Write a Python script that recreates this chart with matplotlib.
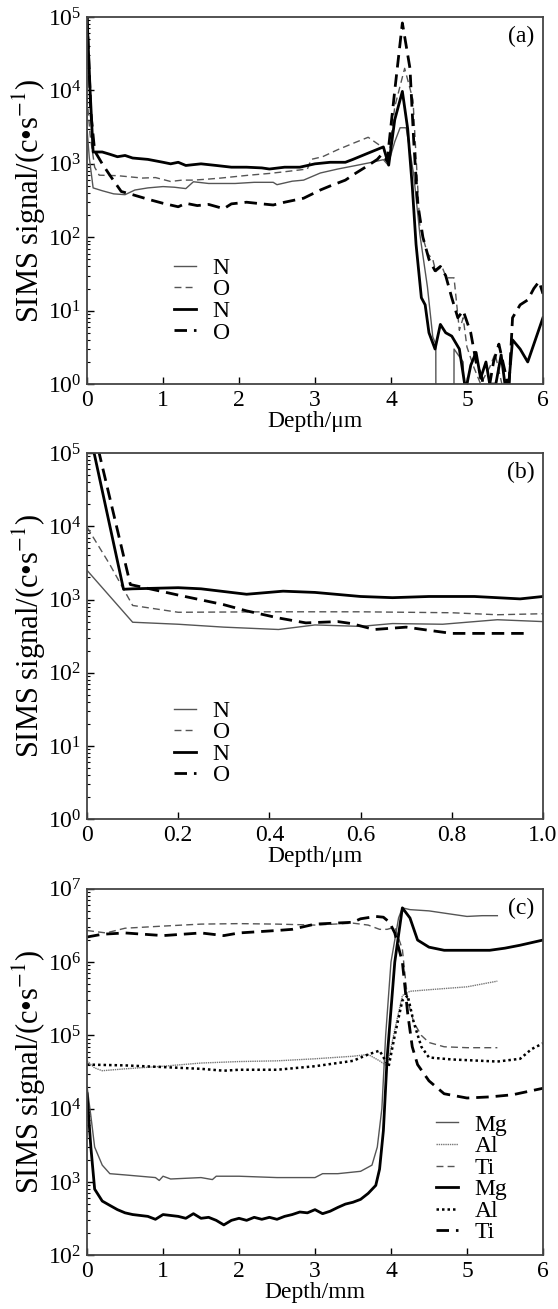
import matplotlib
matplotlib.use("Agg")
import matplotlib.pyplot as plt
import numpy as np

plt.rcParams['font.family'] = ['Liberation Serif', 'DejaVu Serif']
plt.rcParams['mathtext.fontset'] = 'stix'

GREY = '#555555'
ZERO = 1e-3   # signal dropped to zero (drawn off the bottom of the log axis)

# ---------------- panel (a) ----------------
a_N1_x = [0.0, 0.03, 0.08, 0.2, 0.35, 0.5, 0.63, 0.8, 1.0, 1.15, 1.3, 1.4, 1.6, 1.95, 2.2, 2.45, 2.5, 2.7, 2.85,
          3.07, 3.3, 3.54, 3.75, 3.9, 3.96, 4.05, 4.12, 4.2, 4.3, 4.38, 4.48, 4.55, 4.59, 4.595, 4.825, 4.83,
          4.95, 5.05]
a_N1_y = [3000, 1200, 470, 430, 390, 380, 440, 470, 490, 480, 460, 570, 540, 540, 560, 560, 520, 580, 600,
          750, 850, 950, 1050, 1140, 970, 2000, 3100, 3100, 700, 110, 21, 4.4, 3.5, ZERO, ZERO, 3.0,
          2.0, ZERO]
a_O1_x = [0.0, 0.04, 0.1, 0.16, 0.4, 0.73, 0.9, 1.1, 1.25, 1.4, 1.6, 1.76, 2.13, 2.4, 2.6, 2.9, 2.95, 3.1, 3.3,
          3.5, 3.7, 3.9, 3.96, 4.05, 4.18, 4.29, 4.38, 4.48, 4.55, 4.59, 4.67, 4.73, 4.83, 4.9, 4.95,
          5.0, 5.09, 5.18, 5.3, 5.37, 5.46, 5.5]
a_O1_y = [8000, 2500, 900, 700, 690, 640, 650, 575, 600, 600, 620, 640, 700, 740, 780, 850, 1150, 1250, 1560,
          1900, 2300, 1650, 1000, 6000, 20000, 7400, 140, 60, 50, 34, 40, 28, 28, 5.4, 8,
          3.2, 1.7, 1.0, 1.7, 2.6, 1.0, 0.5]
a_N2_x = [0.0, 0.04, 0.08, 0.2, 0.3, 0.4, 0.5, 0.6, 0.8, 1.0, 1.1, 1.2, 1.3, 1.5, 1.7, 1.9, 2.1, 2.3, 2.4,
          2.6, 2.8, 3.0, 3.2, 3.4, 3.5, 3.7, 3.9, 3.97, 4.05, 4.15, 4.22, 4.28, 4.33, 4.4, 4.45, 4.5,
          4.58, 4.65, 4.72, 4.8, 4.9, 4.97, 5.0, 5.05, 5.12, 5.18, 5.25, 5.3, 5.38, 5.45, 5.5, 5.55,
          5.6, 5.7, 5.8, 5.9, 6.0]
a_N2_y = [1e5, 1e4, 1450, 1450, 1350, 1250, 1300, 1200, 1150, 1050, 1000, 1050, 950, 1000, 950, 900, 900, 880, 850,
          900, 900, 1000, 1050, 1050, 1150, 1400, 1700, 960, 4000, 9700, 3000, 500, 80, 15, 12, 5,
          3, 6.5, 5, 4.5, 3, 1, 1, 1.8, 2.7, 1.2, 2, 1, 1, 2.5, 1, 1,
          4, 3, 2, 4, 8]
a_O2_x = [0.0, 0.05, 0.1, 0.2, 0.3, 0.45, 0.6, 0.8, 1.0, 1.2, 1.3, 1.45, 1.6, 1.8, 1.9, 2.1, 2.3, 2.45, 2.6,
          2.85, 3.07, 3.2, 3.4, 3.54, 3.7, 3.82, 3.88, 3.95, 4.05, 4.15, 4.25, 4.3, 4.35, 4.42, 4.5,
          4.58, 4.65, 4.72, 4.8, 4.88, 4.95, 5.05, 5.12, 5.2, 5.25, 5.35, 5.42, 5.5, 5.55, 5.6, 5.7,
          5.8, 5.88, 5.95, 6.0]
a_O2_y = [1e5, 5000, 1500, 1000, 700, 420, 380, 330, 290, 260, 290, 270, 280, 245, 285, 300, 285, 275, 300,
          340, 440, 500, 600, 750, 950, 1150, 1350, 1100, 10000, 83000, 20000, 2000, 300, 100, 50,
          35, 40, 30, 15, 8, 10, 5, 2, 1.2, 0.5, 2, 3.5, 1.5, 0.8, 8, 12,
          14, 20, 25, 17]

# ---------------- panel (b) ----------------
b_N1_x = [0.0, 0.1, 0.2, 0.3, 0.42, 0.5, 0.6, 0.67, 0.78, 0.9, 1.0]
b_N1_y = [2500, 490, 460, 420, 390, 450, 430, 470, 460, 530, 500]
b_O1_x = [0.0, 0.05, 0.1, 0.2, 0.4, 0.6, 0.8, 0.9, 1.0]
b_O1_y = [9700, 3000, 830, 670, 680, 680, 660, 620, 640]
b_N2_x = [0.005, 0.08, 0.1, 0.2, 0.25, 0.35, 0.43, 0.5, 0.6, 0.67, 0.75, 0.85, 0.95, 1.0]
b_N2_y = [2e5, 1380, 1400, 1450, 1400, 1180, 1300, 1250, 1100, 1060, 1100, 1100, 1020, 1100]
b_O2_x = [0.015, 0.095, 0.2, 0.3, 0.35, 0.42, 0.48, 0.55, 0.58, 0.63, 0.7, 0.75, 0.8, 0.9, 0.97]
b_O2_y = [2e5, 1600, 1150, 850, 700, 560, 480, 500, 470, 390, 420, 380, 345, 345, 345]

# ---------------- panel (c) ----------------
c_Mg1_x = [0.0, 0.05, 0.1, 0.2, 0.3, 0.5, 0.9, 0.95, 1.0, 1.1, 1.5, 1.65, 1.7, 2.0, 2.5, 3.0, 3.1, 3.3,
           3.6, 3.75, 3.82, 3.88, 3.93, 4.0, 4.1, 4.15, 4.25, 4.5, 4.8, 5.0, 5.2, 5.4]
c_Mg1_y = [2e4, 8000, 3000, 1700, 1300, 1250, 1150, 1050, 1200, 1100, 1150, 1080, 1200, 1200, 1150, 1150, 1300, 1300,
           1400, 1700, 3000, 10000, 1e5, 1e6, 4e6, 5.5e6, 5.2e6, 5e6, 4.5e6, 4.2e6, 4.3e6, 4.3e6]
c_Al1_x = [0.0, 0.1, 0.2, 0.5, 1.0, 1.5, 2.0, 2.5, 3.0, 3.5, 3.7, 3.85, 3.95, 4.05, 4.15, 4.25, 4.5, 5.0, 5.4]
c_Al1_y = [4.5e4, 3.6e4, 3.3e4, 3.5e4, 3.8e4, 4.2e4, 4.4e4, 4.5e4, 4.8e4, 5.2e4, 5.5e4, 4.5e4, 3.8e4, 1.2e5, 3.5e5,
           4e5, 4.2e5, 4.6e5, 5.5e5]
c_Ti1_x = [0.0, 0.25, 0.5, 1.0, 1.5, 2.0, 2.5, 3.0, 3.5, 3.7, 3.85, 3.95, 4.05, 4.15, 4.22, 4.3, 4.4, 4.5, 4.7,
           5.0, 5.4]
c_Ti1_y = [2.7e6, 2.5e6, 2.9e6, 3.1e6, 3.3e6, 3.35e6, 3.3e6, 3.2e6, 3.4e6, 3.2e6, 2.8e6, 2.8e6, 3e6, 1.5e6, 3e5,
           1.5e5, 1e5, 8e4, 7e4, 6.8e4, 6.8e4]
c_Mg2_x = [0.0, 0.05, 0.1, 0.2, 0.3, 0.4, 0.5, 0.6, 0.8, 0.9, 1.0, 1.2, 1.3, 1.4, 1.5, 1.6, 1.7, 1.8, 1.9, 2.0,
           2.1, 2.2, 2.3, 2.4, 2.5, 2.6, 2.7, 2.8, 2.9, 3.0, 3.1, 3.2, 3.3, 3.4, 3.5, 3.6, 3.7, 3.8, 3.85,
           3.9, 3.95, 4.05, 4.15, 4.25, 4.35, 4.5, 4.7, 5.0, 5.3, 5.5, 5.7, 6.0]
c_Mg2_y = [1.6e4, 3000, 800, 550, 480, 420, 380, 360, 340, 310, 360, 340, 320, 370, 320, 330, 300, 260, 300, 320,
           300, 330, 310, 330, 310, 340, 360, 390, 380, 420, 370, 400, 450, 500, 530, 580, 700, 900, 1500,
           5000, 5e4, 1e6, 5.5e6, 4e6, 2e6, 1.6e6, 1.45e6, 1.45e6, 1.45e6, 1.55e6, 1.7e6, 2e6]
c_Al2_x = [0.0, 0.5, 1.0, 1.5, 1.8, 2.0, 2.5, 3.0, 3.5, 3.7, 3.85, 3.97, 4.05, 4.15, 4.22, 4.3, 4.4, 4.5, 4.8,
           5.0, 5.4, 5.7, 5.85, 6.0]
c_Al2_y = [4e4, 3.9e4, 3.7e4, 3.5e4, 3.3e4, 3.4e4, 3.4e4, 3.8e4, 4.5e4, 5.5e4, 6.2e4, 3.8e4, 1e5, 3e5, 3.5e5, 1.5e5,
           7e4, 5e4, 4.7e4, 4.6e4, 4.4e4, 4.8e4, 6.5e4, 7.8e4]
c_Ti2_x = [0.0, 0.2, 0.5, 1.0, 1.5, 1.8, 2.0, 2.5, 2.7, 3.0, 3.5, 3.6, 3.8, 3.9, 3.98, 4.05, 4.15, 4.22, 4.28,
           4.35, 4.5, 4.7, 5.0, 5.3, 5.6, 6.0]
c_Ti2_y = [2.2e6, 2.4e6, 2.5e6, 2.3e6, 2.5e6, 2.3e6, 2.5e6, 2.7e6, 2.8e6, 3.3e6, 3.5e6, 3.9e6, 4.2e6, 4.1e6, 3.5e6,
           2.5e6, 1e6, 2e5, 7e4, 4e4, 2.4e4, 1.6e4, 1.4e4, 1.45e4, 1.55e4, 1.9e4]

thin_solid = dict(color=GREY, lw=1.0)
thin_dash = dict(color=GREY, lw=1.0, dashes=(5, 3))
thick_solid = dict(color='black', lw=2.0)
thick_dash = dict(color='black', lw=2.0, dashes=(4.5, 2.5))
thin_dot = dict(color='#777777', lw=1.0, dashes=(1, 0.6))
thick_dot = dict(color='black', lw=1.8, dashes=(1, 1.2))

fig = plt.figure(figsize=(5.58, 13.09), dpi=100)
L, W = 0.156, 0.817
ax_a = fig.add_axes([L, 0.7066, W, 0.2804])
ax_b = fig.add_axes([L, 0.374, W, 0.280])
ax_c = fig.add_axes([L, 0.041, W, 0.280])

LEG = dict(frameon=False, fontsize=17, handlelength=0.95, handletextpad=0.7, labelspacing=0.0, borderpad=0,
           borderaxespad=0)


def style(ax, xlabel, letter):
    ax.set_yscale('log')
    ax.tick_params(which='both', direction='in', top=False, right=False, labelsize=17)
    ax.tick_params(which='major', length=5, width=1.0, pad=4)
    ax.tick_params(which='minor', length=2.5, width=0.8)
    for s in ax.spines.values():
        s.set_color('#444444')
        s.set_linewidth(1.3)
    ax.set_xlabel(xlabel, fontsize=17, labelpad=0)
    ax.set_ylabel('SIMS signal/(c•s$^{-1}$)', fontsize=22, labelpad=0)
    ax.text(0.982, 0.946, letter, transform=ax.transAxes, ha='right', va='center', fontsize=17)


# (a)
ax_a.plot(a_N1_x, a_N1_y, label='N', **thin_solid)
ax_a.plot(a_O1_x, a_O1_y, label='O', **thin_dash)
ax_a.plot(a_N2_x, a_N2_y, label='N', **thick_solid)
ax_a.plot(a_O2_x, a_O2_y, label='O', **thick_dash)
ax_a.set_xlim(0, 6)
ax_a.set_ylim(1, 1e5)
style(ax_a, 'Depth/μm', '(a)')
ax_a.legend(loc='upper left', bbox_to_anchor=(0.19, 0.345), **LEG)

# (b)
ax_b.plot(b_N1_x, b_N1_y, label='N', **thin_solid)
ax_b.plot(b_O1_x, b_O1_y, label='O', **thin_dash)
ax_b.plot(b_N2_x, b_N2_y, label='N', **thick_solid)
ax_b.plot(b_O2_x, b_O2_y, label='O', **thick_dash)
ax_b.set_xlim(0, 1.0)
ax_b.set_ylim(1, 1e5)
ax_b.set_xticks([0, 0.2, 0.4, 0.6, 0.8, 1.0])
ax_b.set_xticklabels(['0', '0.2', '0.4', '0.6', '0.8', '1.0'])
style(ax_b, 'Depth/μm', '(b)')
ax_b.legend(loc='upper left', bbox_to_anchor=(0.19, 0.325), **LEG)

# (c)
ax_c.plot(c_Mg1_x, c_Mg1_y, label='Mg', **thin_solid)
ax_c.plot(c_Al1_x, c_Al1_y, label='Al', **thin_dot)
ax_c.plot(c_Ti1_x, c_Ti1_y, label='Ti', **thin_dash)
ax_c.plot(c_Mg2_x, c_Mg2_y, label='Mg', **thick_solid)
ax_c.plot(c_Al2_x, c_Al2_y, label='Al', **thick_dot)
ax_c.plot(c_Ti2_x, c_Ti2_y, label='Ti', **thick_dash)
ax_c.set_xlim(0, 6)
ax_c.set_ylim(1e2, 1e7)
style(ax_c, 'Depth/mm', '(c)')
ax_c.legend(loc='upper left', bbox_to_anchor=(0.765, 0.385), **LEG)

fig.savefig('out.png', dpi=100)
